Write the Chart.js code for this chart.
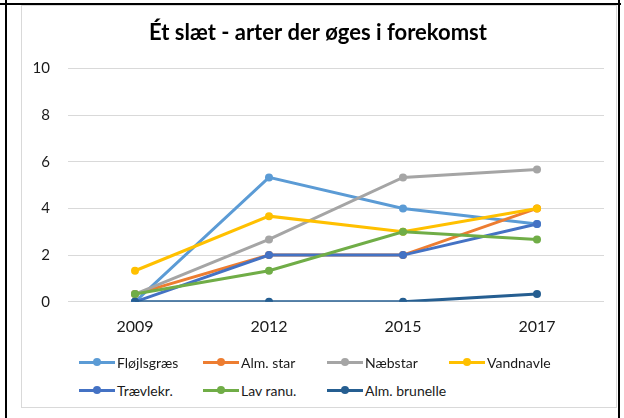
<!DOCTYPE html>
<html>
<head>
<meta charset="utf-8">
<script src="https://cdn.jsdelivr.net/npm/chart.js@4"></script>
<style>
  body { margin: 0; background: #fff; width: 624px; height: 418px; position: relative; overflow: hidden; font-family: Lato, sans-serif; }
  .edge { position: absolute; background: #000; }
  #frame { position: absolute; left: 21px; top: 5px; width: 594px; height: 401px; border: 1px solid #d9d9d9; background: #fff; }
  #wrap { position: absolute; left: 21px; top: 5px; width: 596px; height: 352px; }
  .item { position: absolute; height: 16px; display: flex; align-items: center; font-size: 14px; color: #1a1a1a; white-space: nowrap; }
  .swatch { position: relative; width: 36px; height: 16px; margin-right: 2px; }
  .swatch .ln { position: absolute; left: 0; right: 0; top: 6.5px; height: 3px; }
  .swatch .dt { position: absolute; left: 14px; top: 4px; width: 8px; height: 8px; border-radius: 50%; }
</style>
</head>
<body>
<div class="edge" style="left:0;top:3px;width:621px;height:2px"></div>
<div class="edge" style="left:5px;top:0;width:2px;height:418px"></div>
<div class="edge" style="left:618px;top:0;width:2px;height:418px"></div>
<div id="frame"></div>
<div id="wrap"><canvas id="chart"></canvas></div>
<div id="legend"></div>
<script>
const years = ['2009', '2012', '2015', '2017'];
const names = ['Fløjlsgræs', 'Alm. star', 'Næbstar', 'Vandnavle', 'Trævlekr.', 'Lav ranu.', 'Alm. brunelle'];
const colors = ['#5B9BD5', '#ED7D31', '#A5A5A5', '#FFC000', '#4472C4', '#70AD47', '#255E91'];

const floejlsgraes = [0, 5.33, 4, 3.33];
const almStar = [0.33, 2, 2, 4];
const naebstar = [0.33, 2.67, 5.33, 5.67];
const vandnavle = [1.33, 3.67, 3, 4];
const traevlekr = [0, 2, 2, 3.33];
const lavRanu = [0.33, 1.33, 3, 2.67];
const almBrunelle = [0, 0, 0, 0.33];
const series = [floejlsgraes, almStar, naebstar, vandnavle, traevlekr, lavRanu, almBrunelle];

const yTicks = [0, 2, 4, 6, 8, 10];

const ctx = document.querySelector('#chart').getContext('2d');
new Chart(ctx, {
    type: 'line',
    data: {
        labels: years,
        datasets: series.map((vals, i) => ({
            label: names[i],
            data: vals,
            borderColor: colors[i],
            backgroundColor: colors[i],
            borderWidth: 3,
            pointRadius: 4,
            pointBorderWidth: 0,
            pointBackgroundColor: colors[i],
            tension: 0,
            order: names.length - i   // last series on top, like the original
        }))
    },
    options: {
        responsive: true,
        maintainAspectRatio: false,
        animation: false,
        layout: { padding: { left: 11, right: 13, top: 0, bottom: 6 } },
        plugins: {
            legend: { display: false },
            tooltip: { enabled: false },
            title: {
                display: true,
                text: 'Ét slæt - arter der øges i forekomst',
                color: '#000',
                font: { family: 'Lato', size: 22, weight: 'bold', lineHeight: 1.2 },
                padding: { top: 15, bottom: 22 }
            }
        },
        scales: {
            x: {
                offset: true,
                grid: { display: false, drawTicks: false },
                border: { display: false },
                ticks: { color: '#1a1a1a', padding: 15, font: { family: 'Lato', size: 16, lineHeight: 1.2 } }
            },
            y: {
                min: 0,
                max: 10,
                afterFit: (scale) => { scale.width = 36; },
                afterBuildTicks: (scale) => { scale.ticks = yTicks.map(v => ({ value: v })); },
                grid: { color: '#d9d9d9', lineWidth: 1, drawTicks: false },
                border: { display: false },
                ticks: { color: '#1a1a1a', padding: 18, font: { family: 'Lato', size: 15 } }
            }
        }
    }
});

// legend laid out in columns like the original
const legendBox = document.querySelector('#legend');
const colX = [79, 203, 327, 449];
const rowY = [354, 382];
names.forEach((n, i) => {
    const item = document.createElement('div');
    item.className = 'item';
    item.style.left = colX[i % 4] + 'px';
    item.style.top = rowY[Math.floor(i / 4)] + 'px';
    item.innerHTML = '<span class="swatch"><span class="ln" style="background:' + colors[i] + '"></span>' +
        '<span class="dt" style="background:' + colors[i] + '"></span></span>' + n;
    legendBox.appendChild(item);
});
</script>
</body>
</html>
